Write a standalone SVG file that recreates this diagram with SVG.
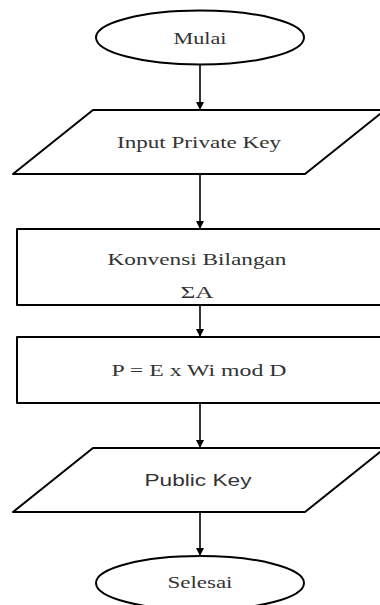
<svg xmlns="http://www.w3.org/2000/svg" width="380" height="605" viewBox="0 0 380 605">
<defs>
<style>
.shape{fill:#fff;stroke:#000;stroke-width:2;stroke-linejoin:round}
.serif{font-family:"Liberation Serif","Times New Roman",serif;font-size:17px;fill:#333;text-anchor:middle}
.sans{font-family:"Liberation Sans",Arial,sans-serif;font-size:16px;fill:#333;text-anchor:middle}
.conn{stroke:#000;stroke-width:1.6;fill:none;marker-end:url(#ah)}
</style>
<marker id="ah" viewBox="0 0 10 10" refX="10" refY="5" markerWidth="8" markerHeight="9" markerUnits="userSpaceOnUse" orient="auto">
<path d="M0,0 L10,5 L0,10 Z" fill="#000"/>
</marker>
</defs>
<rect width="380" height="605" fill="#fff"/>
<g id="connectors">
<line class="conn" x1="200" y1="65" x2="200" y2="110"/>
<line class="conn" x1="200" y1="174" x2="200" y2="229"/>
<line class="conn" x1="200" y1="305" x2="200" y2="337"/>
<line class="conn" x1="200" y1="403" x2="200" y2="448"/>
<line class="conn" x1="200" y1="512" x2="200" y2="556"/>
</g>
<g id="mulai">
<ellipse class="shape" cx="200" cy="37.5" rx="104" ry="27"/>
<text class="serif" x="200" y="44" textLength="53" lengthAdjust="spacingAndGlyphs">Mulai</text>
</g>
<g id="input">
<path class="shape" d="M13,174 L93,110 L385,110 L305,174 Z"/>
<text class="serif" x="199" y="148" textLength="164" lengthAdjust="spacingAndGlyphs">Input Private Key</text>
</g>
<g id="konversi">
<rect class="shape" x="17" y="229" width="375" height="76"/>
<text class="serif" x="197" y="265" textLength="179" lengthAdjust="spacingAndGlyphs">Konvensi Bilangan</text>
<text class="serif" x="197" y="298" textLength="33" lengthAdjust="spacingAndGlyphs">ΣA</text>
</g>
<g id="rumus">
<rect class="shape" x="17" y="337" width="375" height="66"/>
<text class="serif" x="199" y="376" textLength="175" lengthAdjust="spacingAndGlyphs">P = E x Wi mod D</text>
</g>
<g id="public">
<path class="shape" d="M13,512 L93,448 L385,448 L305,512 Z"/>
<text class="sans" x="198" y="486" textLength="107" lengthAdjust="spacingAndGlyphs">Public Key</text>
</g>
<g id="selesai">
<ellipse class="shape" cx="200" cy="583" rx="104" ry="27"/>
<text class="serif" x="200" y="588" textLength="65" lengthAdjust="spacingAndGlyphs">Selesai</text>
</g>
</svg>
